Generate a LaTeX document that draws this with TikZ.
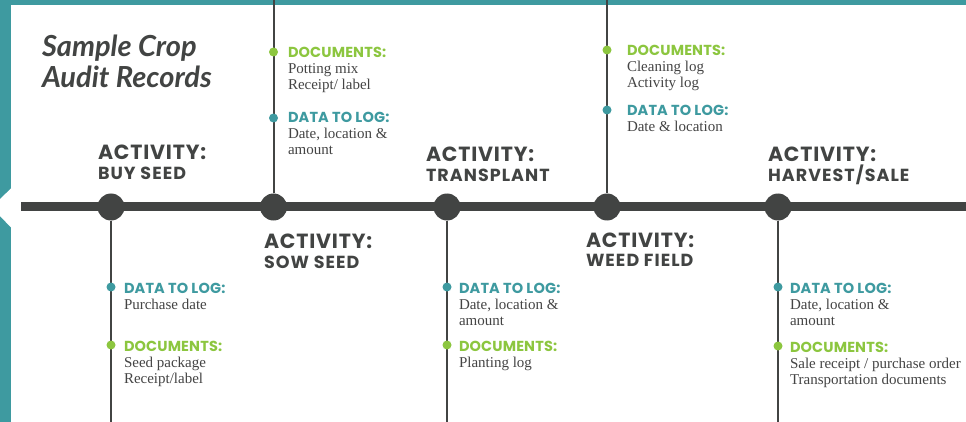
\documentclass[tikz,border=0pt]{standalone}
\usepackage{fontspec}
\setmainfont{Liberation Serif}
\newfontfamily\headsans{Poppins}[LetterSpace=4]
\newfontfamily\subsans{Poppins}[LetterSpace=6]
\newfontfamily\tagsans{Poppins}[LetterSpace=1]
\newfontfamily\scripttitle{Lato}
\definecolor{teal}{HTML}{3E9AA0}
\definecolor{leaf}{HTML}{8CC63F}
\definecolor{ink}{HTML}{424443}
\definecolor{bodygray}{HTML}{444444}

% text styles
\newcommand{\actfont}{\headsans\bfseries\fontsize{20.5}{20}\selectfont}
\newcommand{\actsubfont}{\subsans\bfseries\fontsize{17.5}{20}\selectfont}
\newcommand{\tagfont}{\tagsans\bfseries\fontsize{14.5}{16}\selectfont}
\newcommand{\bodyfont}{\rmfamily\mdseries\fontsize{15}{16}\selectfont}

% heading + body lines, first baseline on the node's base
\newcommand{\infoblock}[3]{\parbox[t]{7cm}{\leavevmode\raggedright
  \color{#1}\tagfont #2\\
  \color{bodygray}\bodyfont #3\par}}
\newcommand{\actblock}[1]{\parbox[t]{6cm}{\leavevmode\raggedright\color{ink}%
  \actfont ACTIVITY:\\
  \actsubfont #1\par}}

\begin{document}
\begin{tikzpicture}[x=1pt,y=-1pt,
  event/.style={circle,fill=ink,inner sep=0pt,minimum size=27pt},
  tick/.style={circle,inner sep=0pt,minimum size=9pt},
  spine/.style={draw=ink,line width=9pt},
  stem/.style={draw=ink,line width=2pt},
  txt/.style={anchor=base west,inner sep=0pt,outer sep=0pt}]

\useasboundingbox (0,0) rectangle (966,422);
\fill[white] (0,0) rectangle (966,422);

% frame: top band and left band with its notch
\fill[teal] (0,0) rectangle (966,5);
\fill[teal] (0,0) rectangle (11,422);
\fill[white] (11.5,188) -- (0,199) -- (0,216) -- (11.5,228) -- cycle;

% title
\node[txt,text=ink] (title) at (42,57) {\parbox[t]{6cm}{\leavevmode\scripttitle\bfseries\itshape\fontsize{29}{31}\selectfont Sample Crop\\ Audit Records\par}};

% timeline
\coordinate (start) at (21,207);
\coordinate (end) at (966,207);
\path[spine] (start) -- (end);

\node[event] (buy) at (111,207) {};
\node[event] (sow) at (273.5,207) {};
\node[event] (trans) at (447,207) {};
\node[event] (weed) at (607,207) {};
\node[event] (harv) at (778,207) {};

\coordinate (buyend) at (111,422);
\coordinate (sowend) at (273.5,0);
\coordinate (transend) at (447,422);
\coordinate (weedend) at (607,0);
\coordinate (harvend) at (778,422);

\path[stem] (buy) -- (buyend);
\path[stem] (sow) -- (sowend);
\path[stem] (trans) -- (transend);
\path[stem] (weed) -- (weedend);
\path[stem] (harv) -- (harvend);

% activity labels
\node[txt] (actbuy) at (98,160) {\actblock{BUY SEED}};
\node[txt] (actsow) at (264,248) {\actblock{SOW SEED}};
\node[txt] (acttrans) at (426,162) {\actblock{TRANSPLANT}};
\node[txt] (actweed) at (586,247) {\actblock{WEED FIELD}};
\node[txt] (actharv) at (768,162) {\actblock{HARVEST/SALE}};

% sow seed records
\node[tick,fill=leaf] (sowdocdot) at (273.5,52) {};
\node[txt] (sowdoc) at (288,57.5) {\infoblock{leaf}{DOCUMENTS:}{Potting mix\\ Receipt/ label}};
\node[tick,fill=teal] (sowlogdot) at (273.5,118) {};
\node[txt] (sowlog) at (288,123) {\infoblock{teal}{DATA TO LOG:}{Date, location \&\\ amount}};

% weed field records
\node[tick,fill=leaf] (weeddocdot) at (607,50) {};
\node[txt] (weeddoc) at (627,56) {\infoblock{leaf}{DOCUMENTS:}{Cleaning log\\ Activity log}};
\node[tick,fill=teal] (weedlogdot) at (607,110) {};
\node[txt] (weedlog) at (627,115.5) {\infoblock{teal}{DATA TO LOG:}{Date \& location}};

% buy seed records
\node[tick,fill=teal] (buylogdot) at (111,287) {};
\node[txt] (buylog) at (124,293) {\infoblock{teal}{DATA TO LOG:}{Purchase date}};
\node[tick,fill=leaf] (buydocdot) at (111,345) {};
\node[txt] (buydoc) at (124,351) {\infoblock{leaf}{DOCUMENTS:}{Seed package\\ Receipt/label}};

% transplant records
\node[tick,fill=teal] (translogdot) at (447,287) {};
\node[txt] (translog) at (459,293) {\infoblock{teal}{DATA TO LOG:}{Date, location \&\\ amount}};
\node[tick,fill=leaf] (transdocdot) at (447,345) {};
\node[txt] (transdoc) at (459,351) {\infoblock{leaf}{DOCUMENTS:}{Planting log}};

% harvest/sale records
\node[tick,fill=teal] (harvlogdot) at (778,287) {};
\node[txt] (harvlog) at (790,293.5) {\infoblock{teal}{DATA TO LOG:}{Date, location \&\\ amount}};
\node[tick,fill=leaf] (harvdocdot) at (778,346) {};
\node[txt] (harvdoc) at (790,352) {\infoblock{leaf}{DOCUMENTS:}{Sale receipt / purchase order\\ Transportation documents}};

\end{tikzpicture}
\end{document}
